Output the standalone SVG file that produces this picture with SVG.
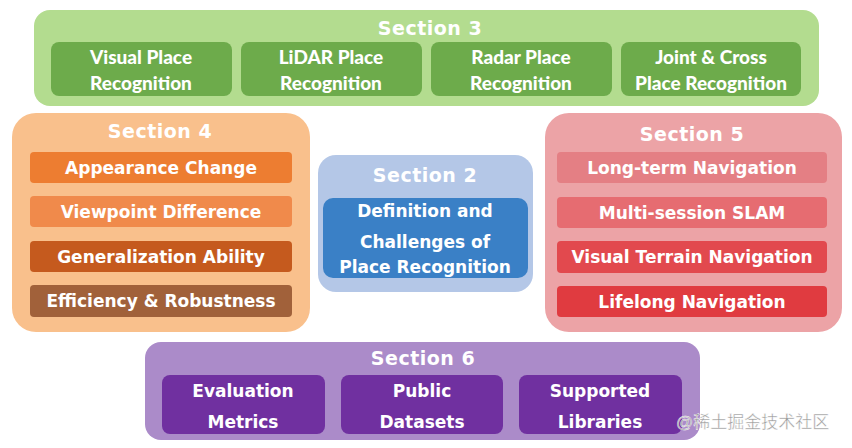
<svg xmlns="http://www.w3.org/2000/svg" width="852" height="448" viewBox="0 0 852 448">
<style>
.title{font-family:"DejaVu Sans",Verdana,sans-serif;font-weight:bold;font-size:19px;fill:#ffffff;text-anchor:middle;letter-spacing:0.5px}
.item{font-family:"DejaVu Sans",Verdana,sans-serif;font-weight:bold;font-size:17px;fill:#ffffff;text-anchor:middle}
.s3t{font-family:Lato,"Liberation Sans",sans-serif;font-weight:900;font-size:19px;fill:#ffffff;text-anchor:middle}
.wm{font-family:"Liberation Sans","Noto Sans CJK SC",sans-serif;font-size:17px;fill:#9a9a9a;stroke:#ffffff;stroke-width:0.4}
</style>
<rect width="852" height="448" fill="#ffffff"/>
<g id="section3">
  <rect x="34" y="10" width="785" height="96" rx="16" fill="#b3dc8f"/>
  <text class="title" x="430" y="35">Section 3</text>
  <g id="s3-visual">
    <rect x="51" y="42" width="181" height="54" rx="8" fill="#6dab4b"/>
    <text class="s3t" x="141" y="64">Visual Place</text>
    <text class="s3t" x="141" y="90">Recognition</text>
  </g>
  <g id="s3-lidar">
    <rect x="241" y="42" width="181" height="54" rx="8" fill="#6dab4b"/>
    <text class="s3t" x="331" y="64">LiDAR Place</text>
    <text class="s3t" x="331" y="90">Recognition</text>
  </g>
  <g id="s3-radar">
    <rect x="431" y="42" width="181" height="54" rx="8" fill="#6dab4b"/>
    <text class="s3t" x="521" y="64">Radar Place</text>
    <text class="s3t" x="521" y="90">Recognition</text>
  </g>
  <g id="s3-joint">
    <rect x="621" y="42" width="180" height="54" rx="8" fill="#6dab4b"/>
    <text class="s3t" x="711" y="64">Joint &amp; Cross</text>
    <text class="s3t" x="711" y="90">Place Recognition</text>
  </g>
</g>
<g id="section4">
  <rect x="12" y="113" width="298" height="219" rx="24" fill="#f9c08c"/>
  <text class="title" x="160" y="138">Section 4</text>
  <g id="s4-appearance">
    <rect x="30" y="152" width="262" height="31" rx="4" fill="#ed7d31"/>
    <text class="item" x="161" y="174">Appearance Change</text>
  </g>
  <g id="s4-viewpoint">
    <rect x="30" y="196" width="262" height="31" rx="4" fill="#f08a4b"/>
    <text class="item" x="161" y="218">Viewpoint Difference</text>
  </g>
  <g id="s4-generalization">
    <rect x="30" y="241" width="262" height="31" rx="4" fill="#c55a1e"/>
    <text class="item" x="161" y="263">Generalization Ability</text>
  </g>
  <g id="s4-efficiency">
    <rect x="30" y="285" width="262" height="32" rx="4" fill="#a1613a"/>
    <text class="item" x="161" y="307">Efficiency &amp; Robustness</text>
  </g>
</g>
<g id="section2">
  <rect x="318" y="155" width="215" height="137" rx="18" fill="#b4c7e7"/>
  <text class="title" x="425" y="182">Section 2</text>
  <g id="s2-definition">
    <rect x="323" y="198" width="205" height="80" rx="10" fill="#3a80c6"/>
    <text class="item" x="425" y="217">Definition and</text>
    <text class="item" x="425" y="248">Challenges of</text>
    <text class="item" x="425" y="273">Place Recognition</text>
  </g>
</g>
<g id="section5">
  <rect x="545" y="113" width="297" height="219" rx="24" fill="#eca3a6"/>
  <text class="title" x="692" y="141">Section 5</text>
  <g id="s5-longterm">
    <rect x="557" y="152" width="270" height="31" rx="4" fill="#e47f84"/>
    <text class="item" x="692" y="174">Long-term Navigation</text>
  </g>
  <g id="s5-multisession">
    <rect x="557" y="197" width="270" height="31" rx="4" fill="#e66c71"/>
    <text class="item" x="692" y="219">Multi-session SLAM</text>
  </g>
  <g id="s5-terrain">
    <rect x="557" y="241" width="270" height="32" rx="4" fill="#e2494e"/>
    <text class="item" x="692" y="263">Visual Terrain Navigation</text>
  </g>
  <g id="s5-lifelong">
    <rect x="557" y="286" width="270" height="31" rx="4" fill="#e03b40"/>
    <text class="item" x="692" y="308">Lifelong Navigation</text>
  </g>
</g>
<g id="section6">
  <rect x="145" y="342" width="555" height="98" rx="16" fill="#ab8bc9"/>
  <text class="title" x="423" y="365">Section 6</text>
  <g id="s6-metrics">
    <rect x="162" y="375" width="163" height="59" rx="8" fill="#7030a0"/>
    <text class="item" x="243" y="397">Evaluation</text>
    <text class="item" x="243" y="428">Metrics</text>
  </g>
  <g id="s6-datasets">
    <rect x="341" y="375" width="162" height="59" rx="8" fill="#7030a0"/>
    <text class="item" x="422" y="397">Public</text>
    <text class="item" x="422" y="428">Datasets</text>
  </g>
  <g id="s6-libraries">
    <rect x="519" y="375" width="163" height="59" rx="8" fill="#7030a0"/>
    <text class="item" x="600" y="397">Supported</text>
    <text class="item" x="600" y="428">Libraries</text>
  </g>
</g>
<g id="connectors"></g>
<text class="wm" x="676" y="428">@稀土掘金技术社区</text>
</svg>
